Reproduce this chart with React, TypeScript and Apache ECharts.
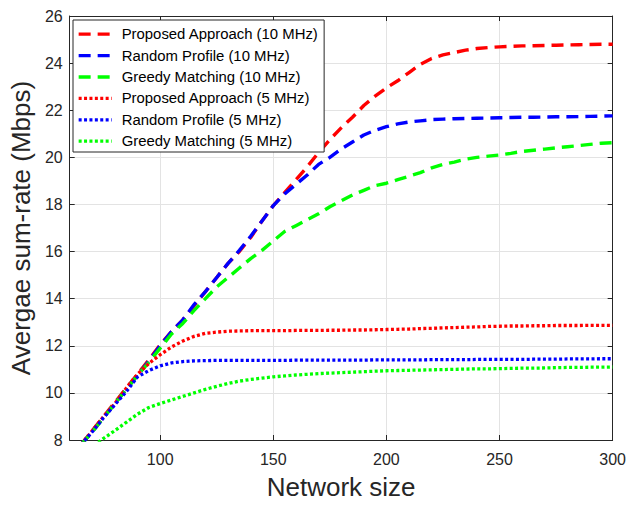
import React, { useEffect, useRef } from "react";
import * as echarts from "echarts";

const networkSize = [65, 70, 75, 80, 85, 90, 95, 100, 105, 110, 115, 120, 125, 130, 135, 140, 145, 150, 155, 160, 165, 170, 175, 180, 185, 190, 195, 200, 205, 210, 215, 220, 225, 230, 235, 240, 245, 250, 255, 260, 265, 270, 275, 280, 285, 290, 295, 300];

const proposed10 = [7.8, 8.4, 9.0, 9.6, 10.2, 10.8, 11.4, 12.05, 12.6, 13.1, 13.7, 14.3, 14.9, 15.5, 16.0, 16.6, 17.3, 17.95, 18.5, 19.05, 19.6, 20.2, 20.75, 21.25, 21.7, 22.2, 22.6, 22.95, 23.25, 23.6, 23.95, 24.2, 24.35, 24.45, 24.55, 24.62, 24.66, 24.69, 24.71, 24.73, 24.74, 24.75, 24.76, 24.77, 24.78, 24.79, 24.8, 24.8];
const random10 = [7.8, 8.35, 8.95, 9.55, 10.15, 10.75, 11.35, 12.0, 12.6, 13.1, 13.75, 14.3, 14.9, 15.5, 16.05, 16.65, 17.3, 17.95, 18.45, 18.85, 19.25, 19.7, 20.0, 20.35, 20.65, 20.95, 21.15, 21.3, 21.42, 21.5, 21.55, 21.6, 21.62, 21.64, 21.65, 21.66, 21.67, 21.68, 21.69, 21.7, 21.7, 21.71, 21.72, 21.72, 21.73, 21.74, 21.75, 21.76];
const greedy10 = [7.8, 8.35, 8.95, 9.55, 10.15, 10.75, 11.3, 11.9, 12.5, 12.95, 13.5, 14.0, 14.5, 14.9, 15.3, 15.7, 16.05, 16.45, 16.85, 17.1, 17.35, 17.6, 17.9, 18.15, 18.4, 18.6, 18.8, 18.9, 19.05, 19.2, 19.35, 19.55, 19.7, 19.8, 19.92, 20.0, 20.05, 20.1, 20.17, 20.25, 20.3, 20.35, 20.4, 20.45, 20.5, 20.55, 20.6, 20.62];
const proposed5 = [7.8, 8.4, 9.0, 9.55, 10.2, 10.8, 11.25, 11.62, 11.95, 12.2, 12.4, 12.53, 12.58, 12.62, 12.63, 12.64, 12.64, 12.64, 12.64, 12.65, 12.65, 12.65, 12.66, 12.66, 12.67, 12.67, 12.68, 12.69, 12.7, 12.71, 12.73, 12.74, 12.76, 12.77, 12.79, 12.8, 12.82, 12.83, 12.84, 12.84, 12.85, 12.85, 12.86, 12.86, 12.86, 12.87, 12.87, 12.87];
const random5 = [7.8, 8.35, 8.95, 9.5, 10.05, 10.68, 10.95, 11.15, 11.27, 11.33, 11.36, 11.37, 11.38, 11.38, 11.38, 11.38, 11.38, 11.38, 11.38, 11.39, 11.39, 11.39, 11.39, 11.39, 11.39, 11.39, 11.4, 11.4, 11.4, 11.4, 11.4, 11.41, 11.41, 11.41, 11.41, 11.42, 11.42, 11.42, 11.42, 11.42, 11.43, 11.43, 11.43, 11.44, 11.44, 11.44, 11.45, 11.45];
const greedy5 = [7.35, 7.7, 8.07, 8.4, 8.75, 9.1, 9.38, 9.55, 9.7, 9.85, 10.0, 10.15, 10.28, 10.4, 10.5, 10.57, 10.63, 10.68, 10.72, 10.76, 10.79, 10.82, 10.84, 10.86, 10.88, 10.9, 10.92, 10.94, 10.95, 10.96, 10.97, 10.98, 10.99, 11.0, 11.01, 11.02, 11.02, 11.03, 11.04, 11.05, 11.05, 11.06, 11.07, 11.08, 11.08, 11.09, 11.09, 11.1];

const seriesNames = [
  "Proposed Approach (10 MHz)",
  "Random Profile (10 MHz)",
  "Greedy Matching (10 MHz)",
  "Proposed Approach (5 MHz)",
  "Random Profile (5 MHz)",
  "Greedy Matching (5 MHz)",
];
const seriesValues = [proposed10, random10, greedy10, proposed5, random5, greedy5];
const seriesColors = ["#ff0000", "#0000ff", "#00ff00", "#ff0000", "#0000ff", "#00ff00"];
const seriesDashed = [true, true, true, false, false, false];

const FONT = "'Liberation Sans', Arial, Helvetica, sans-serif";
const AXIS_COLOR = "#262626";

export default function App() {
  const ref = useRef<HTMLDivElement>(null);
  useEffect(() => {
    if (!ref.current) return;
    const chart = echarts.init(ref.current, undefined, { renderer: "svg" });
    const series = seriesNames.map((name, i) => ({
      name,
      type: "line",
      data: networkSize.map((x, j) => [x, seriesValues[i][j]]),
      showSymbol: false,
      symbol: "none",
      clip: true,
      lineStyle: {
        color: seriesColors[i],
        width: seriesDashed[i] ? 3.4 : 3.3,
        type: seriesDashed[i] ? [12, 7] : [3, 2.4],
        cap: "butt",
      },
      itemStyle: { color: seriesColors[i] },
      z: 2 + i,
    }));
    const baseAxisLine = { show: true, lineStyle: { color: AXIS_COLOR, width: 1 } };
    const tick = { show: true, inside: true, length: 5, lineStyle: { color: AXIS_COLOR } };
    chart.setOption({
      animation: false,
      backgroundColor: "#ffffff",
      grid: { left: 67, right: 15, top: 16, bottom: 60, containLabel: false },
      legend: {
        orient: "vertical",
        left: 73,
        top: 20,
        padding: [6.7, 5.5, 3.3, 4],
        itemGap: 6.4,
        itemWidth: 33,
        itemHeight: 14,
        backgroundColor: "#ffffff",
        borderColor: AXIS_COLOR,
        borderWidth: 1,
        itemStyle: { color: "rgba(0,0,0,0)", borderWidth: 0, opacity: 0 },
        lineStyle: { width: 3.3 },
        textStyle: {
          fontFamily: FONT,
          fontSize: 14.9,
          color: "#000000",
          lineHeight: 14,
          padding: [0, 0, 0, 5],
        },
        data: seriesNames,
      },
      xAxis: [
        {
          type: "value",
          min: 60,
          max: 300,
          splitNumber: 5,
          position: "bottom",
          name: "Network size",
          nameLocation: "middle",
          nameGap: 34,
          nameTextStyle: { fontFamily: FONT, fontSize: 26, color: AXIS_COLOR },
          axisLine: baseAxisLine,
          axisTick: tick,
          axisLabel: {
            showMinLabel: false,
            fontFamily: FONT,
            fontSize: 16,
            color: AXIS_COLOR,
            margin: 11,
          },
          splitLine: { show: true, lineStyle: { color: "#e3e3e3", width: 1 } },
        },
        {
          type: "value",
          min: 60,
          max: 300,
          splitNumber: 5,
          position: "top",
          axisLine: baseAxisLine,
          axisTick: tick,
          axisLabel: { show: false },
          splitLine: { show: false },
        },
      ],
      yAxis: [
        {
          type: "value",
          min: 8,
          max: 26,
          interval: 2,
          position: "left",
          name: "Avergae sum-rate (Mbps)",
          nameLocation: "middle",
          nameGap: 30,
          nameTextStyle: { fontFamily: FONT, fontSize: 26, color: AXIS_COLOR },
          axisLine: baseAxisLine,
          axisTick: tick,
          axisLabel: { fontFamily: FONT, fontSize: 16, color: AXIS_COLOR, margin: 7 },
          splitLine: { show: true, lineStyle: { color: "#e3e3e3", width: 1 } },
        },
        {
          type: "value",
          min: 8,
          max: 26,
          interval: 2,
          position: "right",
          axisLine: baseAxisLine,
          axisTick: tick,
          axisLabel: { show: false },
          splitLine: { show: false },
        },
      ],
      series,
    });
    return () => chart.dispose();
  }, []);
  return (
    <div
      ref={ref}
      style={{ position: "fixed", left: 0, top: 0, width: 629, height: 505, background: "#fff" }}
    />
  );
}
